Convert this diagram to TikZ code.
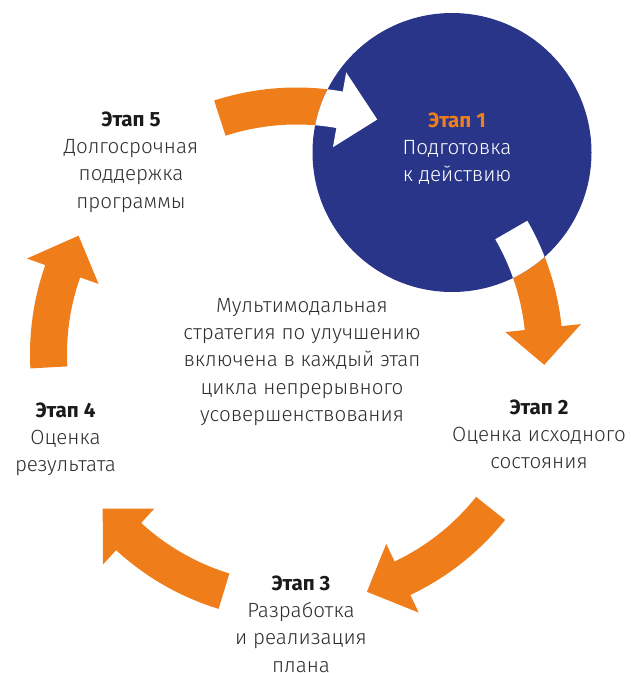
\documentclass[tikz,border=0pt]{standalone}
\usepackage{fontspec}
\setmainfont{Fira Sans Light}[BoldFont={Fira Sans Bold}]
\definecolor{orng}{HTML}{EE7D1A}
\definecolor{navy}{HTML}{283588}
\definecolor{txt}{HTML}{2E2E2E}
\definecolor{txtb}{HTML}{1A1A1A}
\newcommand\cyclearrow[3]{([shift={(c)}]#1:229.5) arc[start angle=#1,end angle=#2,radius=229.5] -- ([shift={(c)}]#2:210) -- ([shift={(c)}]#3:248) -- ([shift={(c)}]#2:286) -- ([shift={(c)}]#2:266.5) arc[start angle=#2,end angle=#1,radius=266.5] -- cycle}
\begin{document}
\begin{tikzpicture}[x=1pt,y=-1pt,
  lbl/.style={align=center, inner sep=0pt, text=txt, font=\fontsize{20.6}{27.2}\selectfont}]
\useasboundingbox (0,0) rectangle (631,673);
\coordinate (c) at (296.5,354);
% orange cycle arrows
\fill[orng] \cyclearrow{176.9}{199.5}{208.5};
\fill[orng] \cyclearrow{252}{280}{289};
\fill[orng] \cyclearrow{-30}{-6}{2.5};
\fill[orng] \cyclearrow{38.5}{64.7}{73.5};
\fill[orng] \cyclearrow{107}{132.6}{141.4};
% big circle
\fill[navy] (452,152.5) circle[radius=139.5];
\begin{scope}
\clip (452,152.5) circle[radius=139.5];
\fill[white] \cyclearrow{252}{280}{289};
\fill[white] \cyclearrow{-30}{-6}{2.5};
\end{scope}
% texts
\node[lbl] (s5) at (131,162) {{\bfseries\color{txtb}Этап 5}\\Долгосрочная\\поддержка\\программы};
\node[lbl, text=white] (s1) at (457,148.7) {{\bfseries\color{orng}Этап 1}\\Подготовка\\к действию};
\node[lbl] (mid) at (302,361.9) {Мультимодальная\\стратегия по улучшению\\включена в каждый этап\\цикла непрерывного\\усовершенствования};
\node[lbl] (s2) at (539,434.2) {{\bfseries\color{txtb}Этап 2}\\Оценка исходного\\состояния};
\node[lbl] (s4) at (65.5,439.2) {{\bfseries\color{txtb}Этап 4}\\Оценка\\результата};
\node[lbl] (s3) at (301,624) {{\bfseries\color{txtb}Этап 3}\\Разработка\\и реализация\\плана};
\end{tikzpicture}
\end{document}
